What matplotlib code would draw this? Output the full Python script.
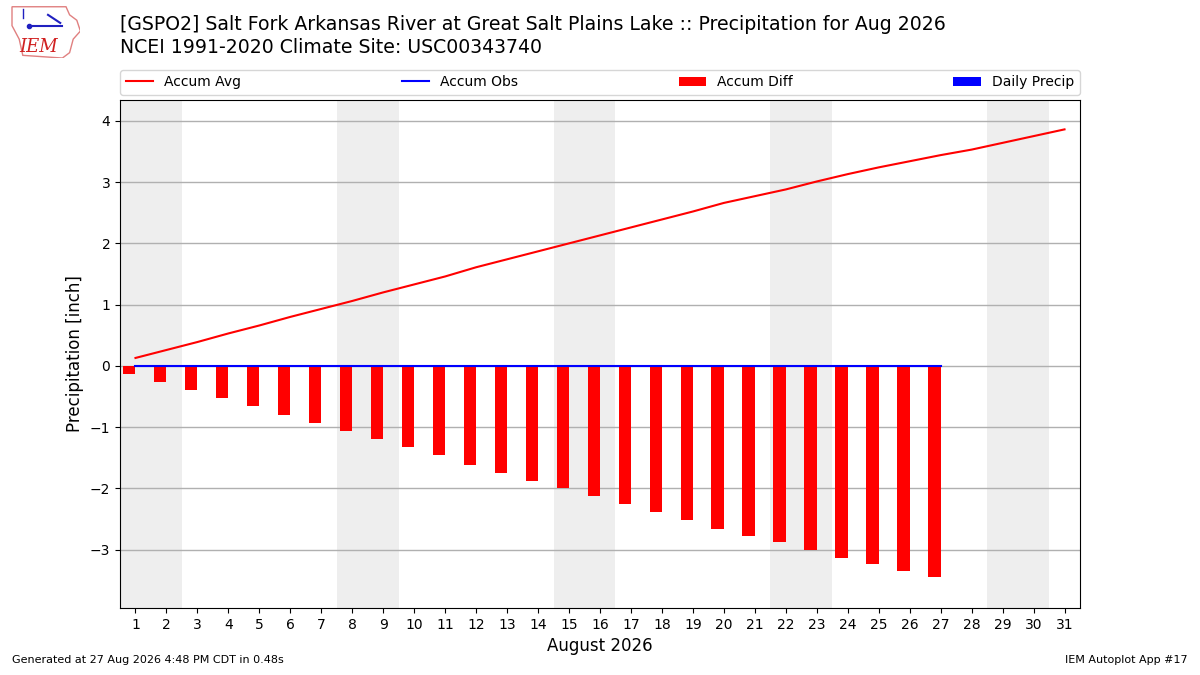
import matplotlib
matplotlib.use("Agg")
import matplotlib.pyplot as plt
import numpy as np
from matplotlib.patches import Polygon

days = np.arange(1, 32)
accum_avg = [0.13, 0.26, 0.39, 0.53, 0.66, 0.80, 0.93, 1.06, 1.20, 1.33,
             1.46, 1.61, 1.74, 1.87, 2.00, 2.13, 2.26, 2.39, 2.52, 2.66,
             2.77, 2.88, 3.01, 3.13, 3.24, 3.34, 3.44, 3.53, 3.64, 3.75, 3.86]
obs_days = np.arange(1, 28)
accum_obs = [0.0] * 27
daily_precip = [0.0] * 27
accum_diff = [o - a for o, a in zip(accum_obs, accum_avg[:27])]
weekend_starts = [1, 8, 15, 22, 29]

fig = plt.figure(figsize=(12, 6.75), dpi=100)
ax = fig.add_axes([0.1, 0.0993, 0.8, 0.7526])

for d in weekend_starts:
    ax.axvspan(d - 0.5, d + 1.5, color="#eeeeee", zorder=0, lw=0)

ax.bar(obs_days, accum_diff, width=-0.4, align="edge", color="r", label="Accum Diff", zorder=2)
ax.bar(obs_days, daily_precip, width=0.4, align="edge", color="b", label="Daily Precip", zorder=2)
ax.plot(days, accum_avg, color="r", lw=1.5, label="Accum Avg", zorder=3)
ax.plot(obs_days, accum_obs, color="b", lw=1.5, label="Accum Obs", zorder=3)

ax.set_xlim(0.5, 31.5)
ax.set_ylim(-3.95, 4.34)
ax.set_xticks(days)
ax.set_xticklabels([str(d) for d in days])
ax.set_yticks([-3, -2, -1, 0, 1, 2, 3, 4])
ax.set_yticklabels(["\u22123", "\u22122", "\u22121", "0", "1", "2", "3", "4"])
ax.grid(axis="y", color="#b0b0b0", lw=1, zorder=1)
ax.set_axisbelow(True)
ax.tick_params(labelsize=10)
ax.set_xlabel("August 2026", fontsize=12)
ax.set_ylabel("Precipitation [inch]", fontsize=12)

handles, labels = ax.get_legend_handles_labels()
order = ["Accum Avg", "Accum Obs", "Accum Diff", "Daily Precip"]
hmap = dict(zip(labels, handles))
ax.legend([hmap[k] for k in order], order, loc="lower left",
          bbox_to_anchor=(0, 1.01, 1, 0.05), mode="expand", ncol=4,
          fontsize=10, borderaxespad=0)

fig.text(0.1, 0.964, "[GSPO2] Salt Fork Arkansas River at Great Salt Plains Lake :: Precipitation for Aug 2026",
         fontsize=13.6, ha="left", va="center")
fig.text(0.1, 0.929, "NCEI 1991-2020 Climate Site: USC00343740",
         fontsize=13.6, ha="left", va="center")

fig.text(0.01, 0.015, "Generated at 27 Aug 2026 4:48 PM CDT in 0.48s", fontsize=8, ha="left", va="bottom")
fig.text(0.99, 0.015, "IEM Autoplot App #17", fontsize=8, ha="right", va="bottom")

# simple logo
lax = fig.add_axes([0.007, 0.914, 0.06, 0.08])
lax.set_xlim(0, 1)
lax.set_ylim(0, 1)
lax.axis("off")
outline = Polygon([[0.05, 0.95], [0.8, 0.95], [0.85, 0.8], [0.95, 0.7], [1.0, 0.5],
                   [0.9, 0.35], [0.85, 0.1], [0.75, 0.0], [0.2, 0.05], [0.15, 0.35],
                   [0.05, 0.6]],
                  closed=True, fill=False, edgecolor="#e08080", lw=1)
lax.add_patch(outline)
lax.plot([0.3, 0.75], [0.6, 0.6], color="#2020c0", lw=1.5)
lax.plot([0.28], [0.6], "o", color="#2020c0", ms=3)
lax.plot([0.55, 0.72], [0.8, 0.65], color="#2020c0", lw=1.5)
lax.plot([0.2, 0.2], [0.75, 0.9], color="#2020c0", lw=1)
lax.text(0.42, 0.2, "IEM", color="#d02020", fontsize=13, family="DejaVu Serif",
         style="italic", ha="center", va="center")

fig.savefig("out.png", dpi=100)
